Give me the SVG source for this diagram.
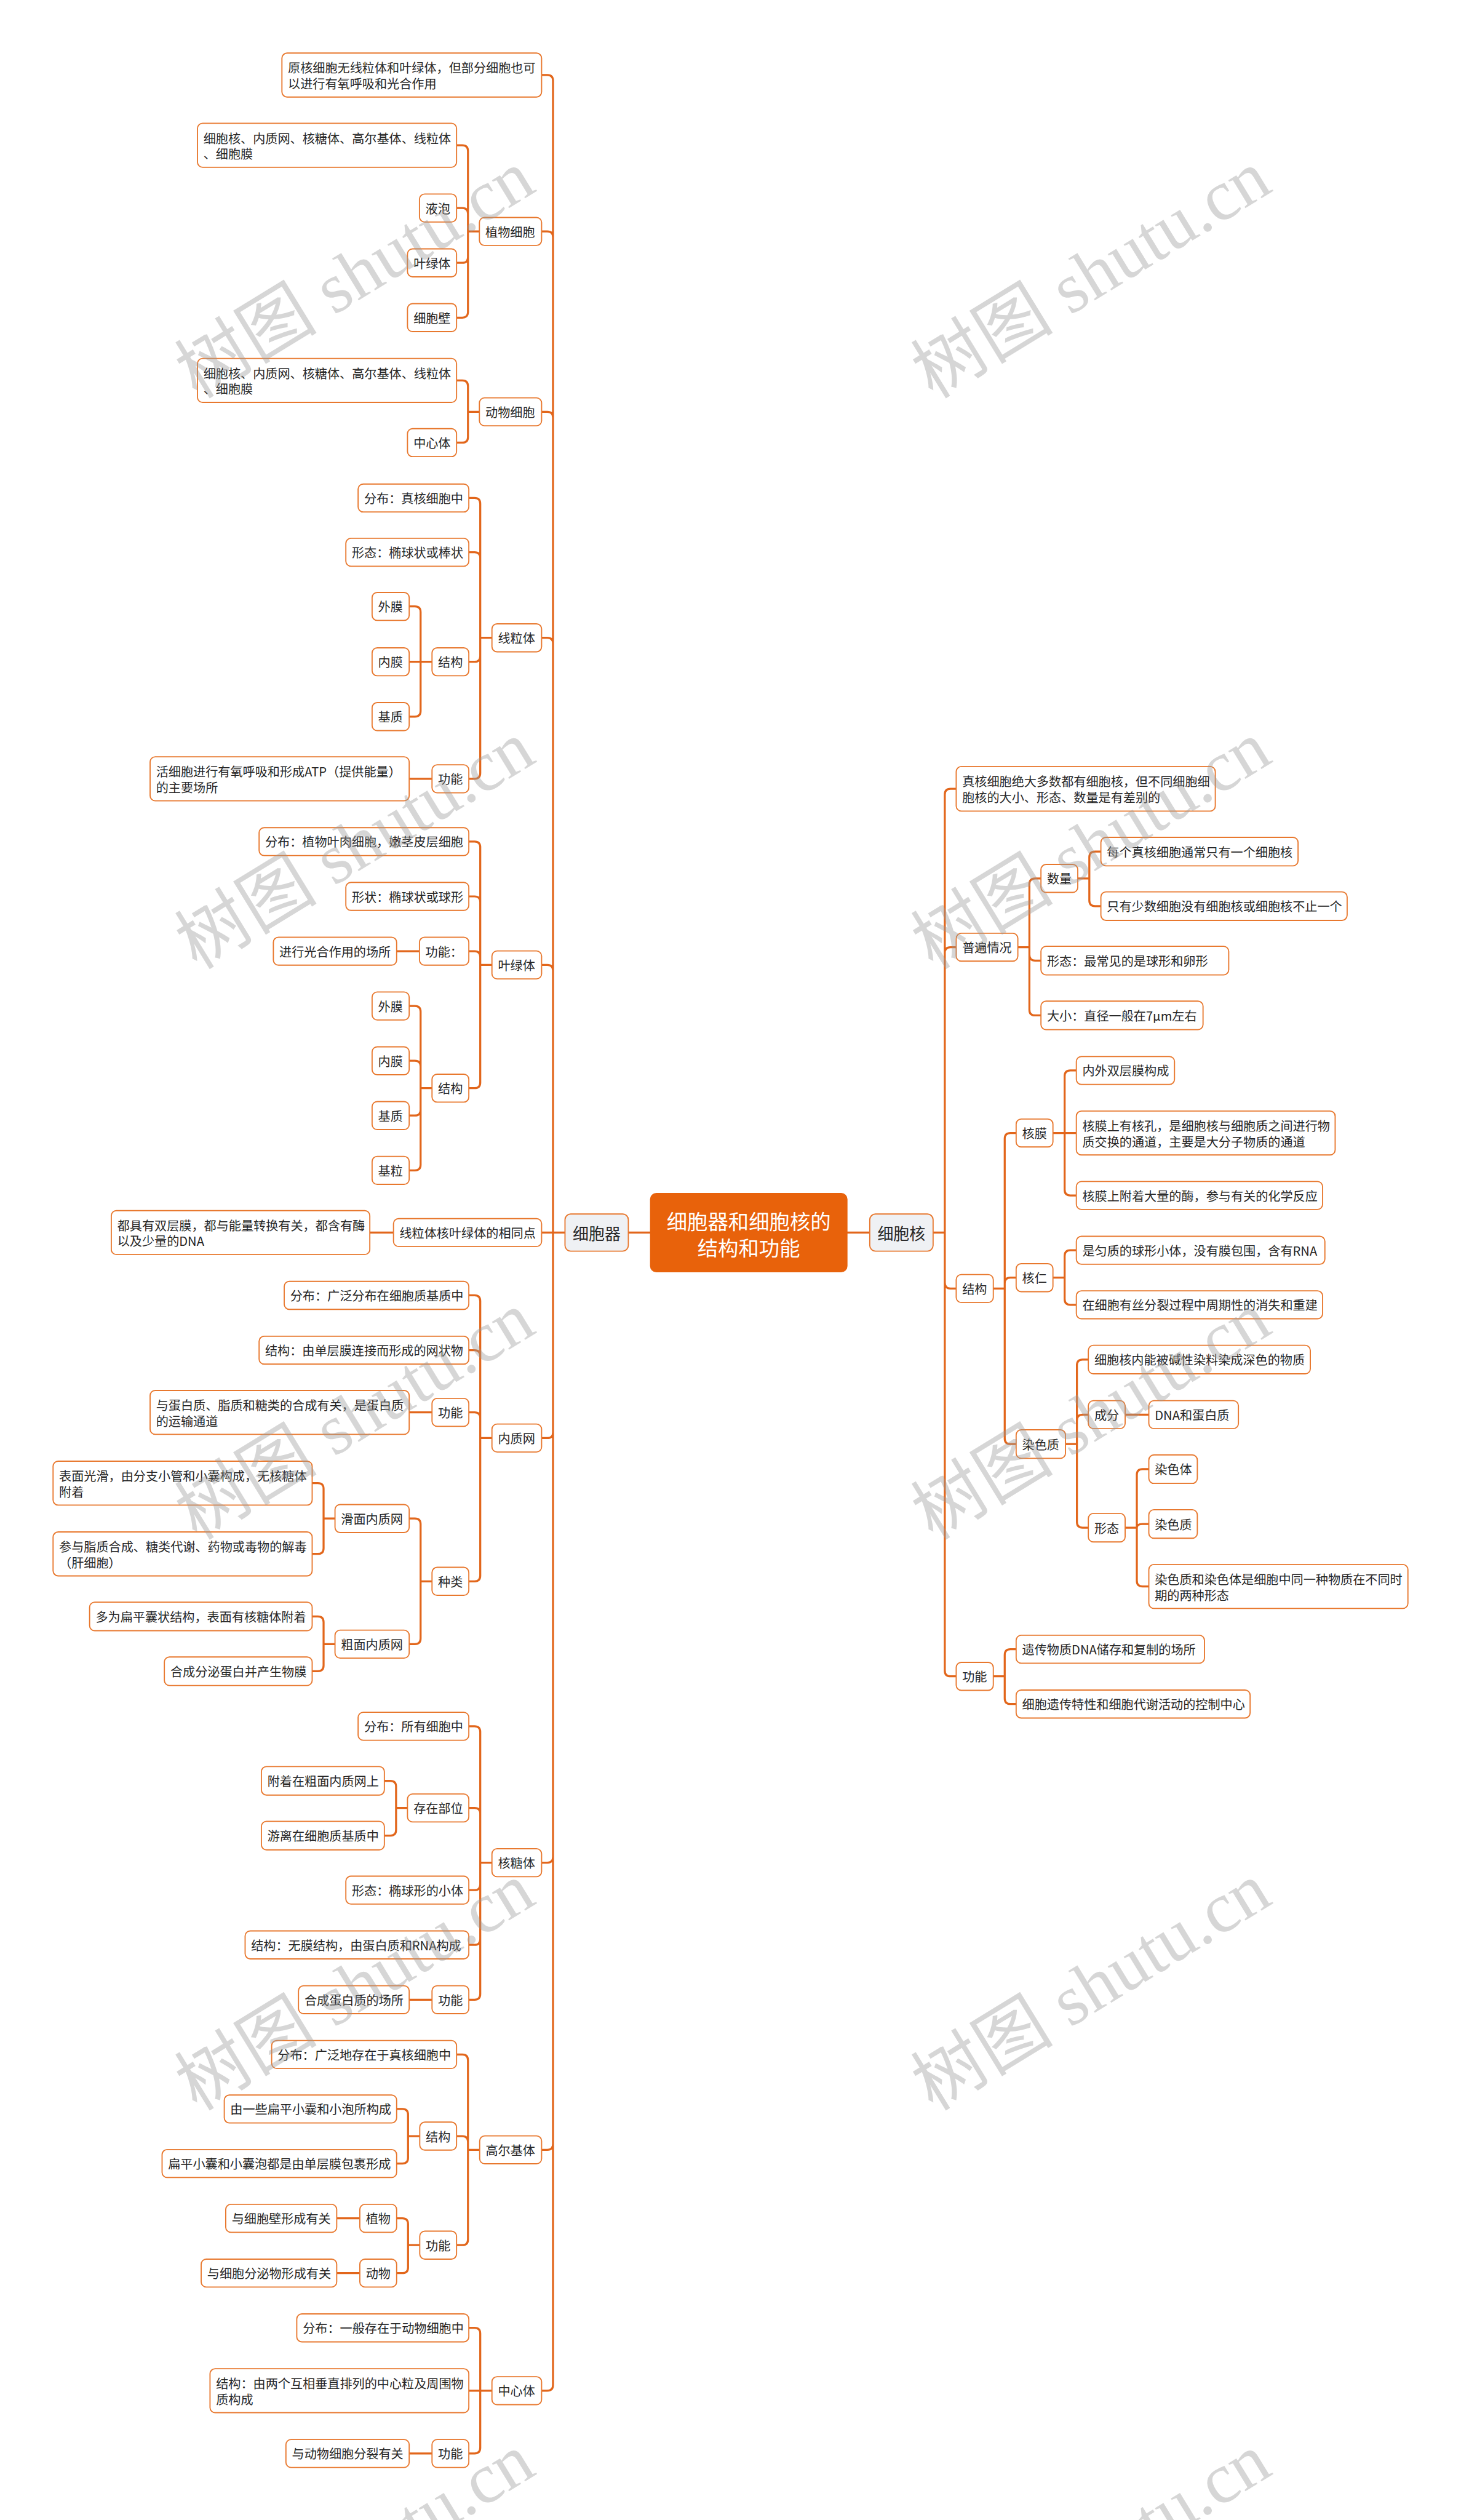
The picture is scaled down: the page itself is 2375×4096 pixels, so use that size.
<svg xmlns="http://www.w3.org/2000/svg" width="2375" height="4096" viewBox="0 0 2375 4096">
<style>
.n rect{fill:#ffffff;stroke:#e8782e;stroke-width:2}
.k rect{fill:#eff1f4;stroke:#e8782e;stroke-width:2}
.t{font-family:"Noto Sans CJK SC","Noto Sans",sans-serif;font-size:21.7px;fill:#262626;dominant-baseline:central}
.big{font-size:28px;text-anchor:middle}
.root rect{fill:#e8620b;stroke:#e8620b;stroke-width:2}
.rt{font-family:"Noto Sans CJK SC","Noto Sans",sans-serif;font-size:36px;fill:#ffffff;text-anchor:middle;dominant-baseline:central}
.c path{fill:none;stroke:#e2661b;stroke-width:3.5}
.wm{font-family:"Liberation Serif","Noto Sans CJK SC",serif;font-size:125px;fill:#999999;fill-opacity:0.4}
</style>
<rect x="0" y="0" width="2375" height="4096" fill="#ffffff"/>
<g transform="scale(0.92773)">
<g id="connectors" class="c">
<path d="M1101 2159.5 H1140 M1484 2159.5 H1524"/>
<path d="M949 131.5 H959 Q969 131.5 969 141.5 V2159.5 M949 405.5 H959 Q969 405.5 969 415.5 V2159.5 M949 721.5 H959 Q969 721.5 969 731.5 V2159.5 M949 1117.5 H959 Q969 1117.5 969 1127.5 V2159.5 M949 1690.5 H959 Q969 1690.5 969 1700.5 V2159.5 M949 2159.5 H990 M949 2519.5 H959 Q969 2519.5 969 2509.5 V2159.5 M949 3263.5 H959 Q969 3263.5 969 3253.5 V2159.5 M949 3766.5 H959 Q969 3766.5 969 3756.5 V2159.5 M949 4188.5 H959 Q969 4188.5 969 4178.5 V2159.5"/>
<path d="M800 254.5 H810 Q820 254.5 820 264.5 V405.5 M800 364.5 H810 Q820 364.5 820 374.5 V405.5 M800 460.5 H810 Q820 460.5 820 450.5 V405.5 M800 556.5 H810 Q820 556.5 820 546.5 V405.5 M840 405.5 H820"/>
<path d="M800 666.5 H810 Q820 666.5 820 676.5 V721.5 M800 775.5 H810 Q820 775.5 820 765.5 V721.5 M840 721.5 H820"/>
<path d="M821.5 872.5 H831.5 Q841.5 872.5 841.5 882.5 V1117.5 M821.5 967.5 H831.5 Q841.5 967.5 841.5 977.5 V1117.5 M821.5 1159.5 H831.5 Q841.5 1159.5 841.5 1149.5 V1117.5 M821.5 1364.5 H831.5 Q841.5 1364.5 841.5 1354.5 V1117.5 M862 1117.5 H841.5"/>
<path d="M717 1062.5 H727 Q737 1062.5 737 1072.5 V1159.5 M717 1159.5 H757 M717 1255.5 H727 Q737 1255.5 737 1245.5 V1159.5"/>
<path d="M717 1364.5 H757"/>
<path d="M821.5 1474.5 H831.5 Q841.5 1474.5 841.5 1484.5 V1690.5 M821.5 1570.5 H831.5 Q841.5 1570.5 841.5 1580.5 V1690.5 M821.5 1666.5 H831.5 Q841.5 1666.5 841.5 1676.5 V1690.5 M821.5 1906.5 H831.5 Q841.5 1906.5 841.5 1896.5 V1690.5 M862 1690.5 H841.5"/>
<path d="M695 1666.5 H735"/>
<path d="M717 1762.5 H727 Q737 1762.5 737 1772.5 V1906.5 M717 1858.5 H727 Q737 1858.5 737 1868.5 V1906.5 M717 1954.5 H727 Q737 1954.5 737 1944.5 V1906.5 M717 2050.5 H727 Q737 2050.5 737 2040.5 V1906.5 M757 1906.5 H737"/>
<path d="M648 2159.5 H689.5"/>
<path d="M821.5 2269.5 H831.5 Q841.5 2269.5 841.5 2279.5 V2519.5 M821.5 2365.5 H831.5 Q841.5 2365.5 841.5 2375.5 V2519.5 M821.5 2474.5 H831.5 Q841.5 2474.5 841.5 2484.5 V2519.5 M821.5 2770.5 H831.5 Q841.5 2770.5 841.5 2760.5 V2519.5 M862 2519.5 H841.5"/>
<path d="M717 2474.5 H757"/>
<path d="M717 2660.5 H727 Q737 2660.5 737 2670.5 V2770.5 M717 2880.5 H727 Q737 2880.5 737 2870.5 V2770.5 M757 2770.5 H737"/>
<path d="M547 2598.5 H557 Q567 2598.5 567 2608.5 V2660.5 M547 2722.5 H557 Q567 2722.5 567 2712.5 V2660.5 M587 2660.5 H567"/>
<path d="M547 2832 H557 Q567 2832 567 2842 V2880.5 M547 2928 H557 Q567 2928 567 2918 V2880.5 M587 2880.5 H567"/>
<path d="M821.5 3024.5 H831.5 Q841.5 3024.5 841.5 3034.5 V3263.5 M821.5 3167.5 H831.5 Q841.5 3167.5 841.5 3177.5 V3263.5 M821.5 3311.5 H831.5 Q841.5 3311.5 841.5 3301.5 V3263.5 M821.5 3407.5 H831.5 Q841.5 3407.5 841.5 3397.5 V3263.5 M821.5 3503.5 H831.5 Q841.5 3503.5 841.5 3493.5 V3263.5 M862 3263.5 H841.5"/>
<path d="M673.5 3120 H684 Q694 3120 694 3130 V3167.5 M673.5 3216 H684 Q694 3216 694 3206 V3167.5 M714 3167.5 H694"/>
<path d="M717 3503.5 H757"/>
<path d="M800 3599.5 H810 Q820 3599.5 820 3609.5 V3766.5 M800 3742.5 H810 Q820 3742.5 820 3752.5 V3766.5 M800 3933.5 H810 Q820 3933.5 820 3923.5 V3766.5 M840.5 3766.5 H820"/>
<path d="M695 3695 H705 Q715 3695 715 3705 V3742.5 M695 3790.5 H705 Q715 3790.5 715 3780.5 V3742.5 M735.5 3742.5 H715"/>
<path d="M695 3886.5 H705 Q715 3886.5 715 3896.5 V3933.5 M695 3982.5 H705 Q715 3982.5 715 3972.5 V3933.5 M735.5 3933.5 H715"/>
<path d="M590 3886.5 H630.5 M590 3982.5 H630.5"/>
<path d="M821.5 4078.5 H831.5 Q841.5 4078.5 841.5 4088.5 V4188.5 M821.5 4188.5 H862 M821.5 4298.5 H831.5 Q841.5 4298.5 841.5 4288.5 V4188.5"/>
<path d="M717 4298.5 H757"/>
<path d="M1675.5 1382 H1665.5 Q1655.5 1382 1655.5 1392 V2159.5 M1675.5 1659.5 H1665.5 Q1655.5 1659.5 1655.5 1669.5 V2159.5 M1675.5 2257.5 H1665.5 Q1655.5 2257.5 1655.5 2247.5 V2159.5 M1675.5 2937 H1665.5 Q1655.5 2937 1655.5 2927 V2159.5 M1635 2159.5 H1655.5"/>
<path d="M1824 1539 H1813.75 Q1803.75 1539 1803.75 1549 V1659.5 M1824 1683 H1813.75 Q1803.75 1683 1803.75 1673 V1659.5 M1824 1779 H1813.75 Q1803.75 1779 1803.75 1769 V1659.5 M1783.5 1659.5 H1803.75"/>
<path d="M1929 1492 H1918.75 Q1908.75 1492 1908.75 1502 V1539 M1929 1587.5 H1918.75 Q1908.75 1587.5 1908.75 1577.5 V1539 M1888.5 1539 H1908.75"/>
<path d="M1780.5 1985 H1770.5 Q1760.5 1985 1760.5 1995 V2257.5 M1780.5 2238.5 H1770.5 Q1760.5 2238.5 1760.5 2248.5 V2257.5 M1780.5 2530 H1770.5 Q1760.5 2530 1760.5 2520 V2257.5 M1740.5 2257.5 H1760.5"/>
<path d="M1886 1875.5 H1875.5 Q1865.5 1875.5 1865.5 1885.5 V1985 M1845 1985 H1886 M1886 2094.5 H1875.5 Q1865.5 2094.5 1865.5 2084.5 V1985"/>
<path d="M1886 2190.5 H1875.5 Q1865.5 2190.5 1865.5 2200.5 V2238.5 M1886 2286 H1875.5 Q1865.5 2286 1865.5 2276 V2238.5 M1845 2238.5 H1865.5"/>
<path d="M1907 2382 H1897 Q1887 2382 1887 2392 V2530 M1907 2478.5 H1897 Q1887 2478.5 1887 2488.5 V2530 M1907 2676.5 H1897 Q1887 2676.5 1887 2666.5 V2530 M1867 2530 H1887"/>
<path d="M1971.5 2478.5 H2013"/>
<path d="M2013 2574 H2002 Q1992 2574 1992 2584 V2676.5 M2013 2670 H2002 Q1992 2670 1992 2676.5 M2013 2779.5 H2002 Q1992 2779.5 1992 2769.5 V2676.5 M1971.5 2676.5 H1992"/>
<path d="M1780.5 2889.5 H1770.5 Q1760.5 2889.5 1760.5 2899.5 V2937 M1780.5 2985.5 H1770.5 Q1760.5 2985.5 1760.5 2975.5 V2937 M1740.5 2937 H1760.5"/>
</g>

<g id="n_root" class="root"><rect x="1140" y="2091" width="344" height="137" rx="10"/><text class="rt"><tspan x="1312" y="2137">细胞器和细胞核的</tspan><tspan x="1312" y="2184">结构和功能</tspan></text></g>
<g id="n_organelle" class="k"><rect x="990" y="2127" width="111" height="65" rx="10"/><text class="t big" x="1045.5" y="2159.5">细胞器</text></g>
<g id="n_nucleus" class="k"><rect x="1524" y="2127" width="111" height="65" rx="10"/><text class="t big" x="1579.5" y="2159.5">细胞核</text></g>

<g id="n_l1" class="n"><rect x="494" y="93" width="455" height="77" rx="9"/><text class="t"><tspan x="504.5" y="118">原核细胞无线粒体和叶绿体，但部分细胞也可</tspan><tspan x="504.5" y="145.5">以进行有氧呼吸和光合作用</tspan></text></g>
<g id="n_plant" class="n"><rect x="840" y="381" width="109" height="49" rx="9"/><text class="t" x="850.5" y="405.5">植物细胞</text></g>
<g id="n_plant_1" class="n"><rect x="346" y="216" width="454" height="77" rx="9"/><text class="t"><tspan x="356.5" y="241">细胞核、内质网、核糖体、高尔基体、线粒体</tspan><tspan x="356.5" y="268.5">、细胞膜</tspan></text></g>
<g id="n_plant_2" class="n"><rect x="735" y="340" width="65" height="49" rx="9"/><text class="t" x="745.5" y="364.5">液泡</text></g>
<g id="n_plant_3" class="n"><rect x="714" y="436" width="86" height="49" rx="9"/><text class="t" x="724.5" y="460.5">叶绿体</text></g>
<g id="n_plant_4" class="n"><rect x="714" y="532" width="86" height="49" rx="9"/><text class="t" x="724.5" y="556.5">细胞壁</text></g>
<g id="n_animal" class="n"><rect x="840" y="697" width="109" height="49" rx="9"/><text class="t" x="850.5" y="721.5">动物细胞</text></g>
<g id="n_animal_1" class="n"><rect x="346" y="628" width="454" height="77" rx="9"/><text class="t"><tspan x="356.5" y="653">细胞核、内质网、核糖体、高尔基体、线粒体</tspan><tspan x="356.5" y="680.5">、细胞膜</tspan></text></g>
<g id="n_animal_2" class="n"><rect x="714" y="751" width="86" height="49" rx="9"/><text class="t" x="724.5" y="775.5">中心体</text></g>

<g id="n_mito" class="n"><rect x="862" y="1093" width="87" height="49" rx="9"/><text class="t" x="872.5" y="1117.5">线粒体</text></g>
<g id="n_mito_1" class="n"><rect x="627.5" y="848" width="194" height="49" rx="9"/><text class="t" x="638" y="872.5">分布：真核细胞中</text></g>
<g id="n_mito_2" class="n"><rect x="606" y="943" width="215.5" height="49" rx="9"/><text class="t" x="616.5" y="967.5">形态：椭球状或棒状</text></g>
<g id="n_mito_3" class="n"><rect x="757" y="1135" width="64.5" height="49" rx="9"/><text class="t" x="767.5" y="1159.5">结构</text></g>
<g id="n_mito_3a" class="n"><rect x="652" y="1038" width="65" height="49" rx="9"/><text class="t" x="662.5" y="1062.5">外膜</text></g>
<g id="n_mito_3b" class="n"><rect x="652" y="1135" width="65" height="49" rx="9"/><text class="t" x="662.5" y="1159.5">内膜</text></g>
<g id="n_mito_3c" class="n"><rect x="652" y="1231" width="65" height="49" rx="9"/><text class="t" x="662.5" y="1255.5">基质</text></g>
<g id="n_mito_4" class="n"><rect x="757" y="1340" width="64.5" height="49" rx="9"/><text class="t" x="767.5" y="1364.5">功能</text></g>
<g id="n_mito_4a" class="n"><rect x="263" y="1326" width="454" height="77" rx="9"/><text class="t"><tspan x="273.5" y="1351">活细胞进行有氧呼吸和形成ATP（提供能量）</tspan><tspan x="273.5" y="1378.5">的主要场所</tspan></text></g>

<g id="n_chloro" class="n"><rect x="862" y="1666" width="87" height="49" rx="9"/><text class="t" x="872.5" y="1690.5">叶绿体</text></g>
<g id="n_chloro_1" class="n"><rect x="454" y="1450" width="367.5" height="49" rx="9"/><text class="t" x="464.5" y="1474.5">分布：植物叶肉细胞，嫩茎皮层细胞</text></g>
<g id="n_chloro_2" class="n"><rect x="606" y="1546" width="215.5" height="49" rx="9"/><text class="t" x="616.5" y="1570.5">形状：椭球状或球形</text></g>
<g id="n_chloro_3" class="n"><rect x="735" y="1642" width="86.5" height="49" rx="9"/><text class="t" x="745.5" y="1666.5">功能：</text></g>
<g id="n_chloro_3a" class="n"><rect x="479" y="1642" width="216" height="49" rx="9"/><text class="t" x="489.5" y="1666.5">进行光合作用的场所</text></g>
<g id="n_chloro_4" class="n"><rect x="757" y="1882" width="64.5" height="49" rx="9"/><text class="t" x="767.5" y="1906.5">结构</text></g>
<g id="n_chloro_4a" class="n"><rect x="652" y="1738" width="65" height="49" rx="9"/><text class="t" x="662.5" y="1762.5">外膜</text></g>
<g id="n_chloro_4b" class="n"><rect x="652" y="1834" width="65" height="49" rx="9"/><text class="t" x="662.5" y="1858.5">内膜</text></g>
<g id="n_chloro_4c" class="n"><rect x="652" y="1930" width="65" height="49" rx="9"/><text class="t" x="662.5" y="1954.5">基质</text></g>
<g id="n_chloro_4d" class="n"><rect x="652" y="2026" width="65" height="49" rx="9"/><text class="t" x="662.5" y="2050.5">基粒</text></g>

<g id="n_same" class="n"><rect x="689.5" y="2135" width="259.5" height="49" rx="9"/><text class="t" x="700" y="2159.5">线粒体核叶绿体的相同点</text></g>
<g id="n_same_1" class="n"><rect x="195" y="2121" width="453" height="77" rx="9"/><text class="t"><tspan x="205.5" y="2146">都具有双层膜，都与能量转换有关，都含有酶</tspan><tspan x="205.5" y="2173.5">以及少量的DNA</tspan></text></g>

<g id="n_er" class="n"><rect x="862" y="2495" width="87" height="49" rx="9"/><text class="t" x="872.5" y="2519.5">内质网</text></g>
<g id="n_er_1" class="n"><rect x="498" y="2245" width="323.5" height="49" rx="9"/><text class="t" x="508.5" y="2269.5">分布：广泛分布在细胞质基质中</text></g>
<g id="n_er_2" class="n"><rect x="454" y="2341" width="367.5" height="49" rx="9"/><text class="t" x="464.5" y="2365.5">结构：由单层膜连接而形成的网状物</text></g>
<g id="n_er_3" class="n"><rect x="757" y="2450" width="64.5" height="49" rx="9"/><text class="t" x="767.5" y="2474.5">功能</text></g>
<g id="n_er_3a" class="n"><rect x="263" y="2436" width="454" height="77" rx="9"/><text class="t"><tspan x="273.5" y="2461">与蛋白质、脂质和糖类的合成有关，是蛋白质</tspan><tspan x="273.5" y="2488.5">的运输通道</tspan></text></g>
<g id="n_er_4" class="n"><rect x="757" y="2746" width="64.5" height="49" rx="9"/><text class="t" x="767.5" y="2770.5">种类</text></g>
<g id="n_er_4a" class="n"><rect x="587" y="2636" width="130" height="49" rx="9"/><text class="t" x="597.5" y="2660.5">滑面内质网</text></g>
<g id="n_er_4a1" class="n"><rect x="93" y="2560" width="454" height="77" rx="9"/><text class="t"><tspan x="103.5" y="2585">表面光滑，由分支小管和小囊构成，无核糖体</tspan><tspan x="103.5" y="2612.5">附着</tspan></text></g>
<g id="n_er_4a2" class="n"><rect x="93" y="2684" width="454" height="77" rx="9"/><text class="t"><tspan x="103.5" y="2709">参与脂质合成、糖类代谢、药物或毒物的解毒</tspan><tspan x="103.5" y="2736.5">（肝细胞）</tspan></text></g>
<g id="n_er_4b" class="n"><rect x="587" y="2856" width="130" height="49" rx="9"/><text class="t" x="597.5" y="2880.5">粗面内质网</text></g>
<g id="n_er_4b1" class="n"><rect x="157" y="2807" width="390" height="50" rx="9"/><text class="t" x="167.5" y="2832">多为扁平囊状结构，表面有核糖体附着</text></g>
<g id="n_er_4b2" class="n"><rect x="288" y="2903" width="259" height="50" rx="9"/><text class="t" x="298.5" y="2928">合成分泌蛋白并产生物膜</text></g>

<g id="n_ribo" class="n"><rect x="862" y="3239" width="87" height="49" rx="9"/><text class="t" x="872.5" y="3263.5">核糖体</text></g>
<g id="n_ribo_1" class="n"><rect x="627.5" y="3000" width="194" height="49" rx="9"/><text class="t" x="638" y="3024.5">分布：所有细胞中</text></g>
<g id="n_ribo_2" class="n"><rect x="714" y="3143" width="107.5" height="49" rx="9"/><text class="t" x="724.5" y="3167.5">存在部位</text></g>
<g id="n_ribo_2a" class="n"><rect x="458" y="3095" width="215.5" height="50" rx="9"/><text class="t" x="468.5" y="3120">附着在粗面内质网上</text></g>
<g id="n_ribo_2b" class="n"><rect x="458" y="3191" width="215.5" height="50" rx="9"/><text class="t" x="468.5" y="3216">游离在细胞质基质中</text></g>
<g id="n_ribo_3" class="n"><rect x="606" y="3287" width="215.5" height="49" rx="9"/><text class="t" x="616.5" y="3311.5">形态：椭球形的小体</text></g>
<g id="n_ribo_4" class="n"><rect x="429.5" y="3383" width="392" height="49" rx="9"/><text class="t" x="440" y="3407.5">结构：无膜结构，由蛋白质和RNA构成</text></g>
<g id="n_ribo_5" class="n"><rect x="757" y="3479" width="64.5" height="49" rx="9"/><text class="t" x="767.5" y="3503.5">功能</text></g>
<g id="n_ribo_5a" class="n"><rect x="523" y="3479" width="194" height="49" rx="9"/><text class="t" x="533.5" y="3503.5">合成蛋白质的场所</text></g>

<g id="n_golgi" class="n"><rect x="840.5" y="3742" width="108.5" height="49" rx="9"/><text class="t" x="851" y="3766.5">高尔基体</text></g>
<g id="n_golgi_1" class="n"><rect x="476" y="3575" width="324" height="49" rx="9"/><text class="t" x="486.5" y="3599.5">分布：广泛地存在于真核细胞中</text></g>
<g id="n_golgi_2" class="n"><rect x="735.5" y="3718" width="64.5" height="49" rx="9"/><text class="t" x="746" y="3742.5">结构</text></g>
<g id="n_golgi_2a" class="n"><rect x="393" y="3670.5" width="302" height="49" rx="9"/><text class="t" x="403.5" y="3695">由一些扁平小囊和小泡所构成</text></g>
<g id="n_golgi_2b" class="n"><rect x="284" y="3766" width="411" height="49" rx="9"/><text class="t" x="294.5" y="3790.5">扁平小囊和小囊泡都是由单层膜包裹形成</text></g>
<g id="n_golgi_3" class="n"><rect x="735.5" y="3909" width="64.5" height="49" rx="9"/><text class="t" x="746" y="3933.5">功能</text></g>
<g id="n_golgi_3a" class="n"><rect x="630.5" y="3862" width="64.5" height="49" rx="9"/><text class="t" x="641" y="3886.5">植物</text></g>
<g id="n_golgi_3a1" class="n"><rect x="395.5" y="3862" width="194.5" height="49" rx="9"/><text class="t" x="406" y="3886.5">与细胞壁形成有关</text></g>
<g id="n_golgi_3b" class="n"><rect x="630.5" y="3958" width="64.5" height="49" rx="9"/><text class="t" x="641" y="3982.5">动物</text></g>
<g id="n_golgi_3b1" class="n"><rect x="352.5" y="3958" width="237.5" height="49" rx="9"/><text class="t" x="363" y="3982.5">与细胞分泌物形成有关</text></g>

<g id="n_cent" class="n"><rect x="862" y="4164" width="87" height="49" rx="9"/><text class="t" x="872.5" y="4188.5">中心体</text></g>
<g id="n_cent_1" class="n"><rect x="520" y="4054" width="301.5" height="49" rx="9"/><text class="t" x="530.5" y="4078.5">分布：一般存在于动物细胞中</text></g>
<g id="n_cent_2" class="n"><rect x="368" y="4150" width="453.5" height="77" rx="9"/><text class="t"><tspan x="378.5" y="4175">结构：由两个互相垂直排列的中心粒及周围物</tspan><tspan x="378.5" y="4202.5">质构成</tspan></text></g>
<g id="n_cent_3" class="n"><rect x="757" y="4274" width="64.5" height="49" rx="9"/><text class="t" x="767.5" y="4298.5">功能</text></g>
<g id="n_cent_3a" class="n"><rect x="501" y="4274" width="216" height="49" rx="9"/><text class="t" x="511.5" y="4298.5">与动物细胞分裂有关</text></g>

<g id="n_r1" class="n"><rect x="1675.5" y="1343" width="454" height="78" rx="9"/><text class="t"><tspan x="1686" y="1368">真核细胞绝大多数都有细胞核，但不同细胞细</tspan><tspan x="1686" y="1395.5">胞核的大小、形态、数量是有差别的</tspan></text></g>
<g id="n_gen" class="n"><rect x="1675.5" y="1635" width="108" height="49" rx="9"/><text class="t" x="1686" y="1659.5">普遍情况</text></g>
<g id="n_gen_1" class="n"><rect x="1824" y="1514.5" width="64.5" height="49" rx="9"/><text class="t" x="1834.5" y="1539">数量</text></g>
<g id="n_gen_1a" class="n"><rect x="1929" y="1467" width="345.5" height="50" rx="9"/><text class="t" x="1939.5" y="1492">每个真核细胞通常只有一个细胞核</text></g>
<g id="n_gen_1b" class="n"><rect x="1929" y="1562.5" width="431.5" height="50" rx="9"/><text class="t" x="1939.5" y="1587.5">只有少数细胞没有细胞核或细胞核不止一个</text></g>
<g id="n_gen_2" class="n"><rect x="1824" y="1658" width="329" height="50" rx="9"/><text class="t" x="1834.5" y="1683">形态：最常见的是球形和卵形</text></g>
<g id="n_gen_3" class="n"><rect x="1824" y="1754" width="284" height="50" rx="9"/><text class="t" x="1834.5" y="1779">大小：直径一般在7μm左右</text></g>

<g id="n_struct" class="n"><rect x="1675.5" y="2233" width="65" height="49" rx="9"/><text class="t" x="1686" y="2257.5">结构</text></g>
<g id="n_env" class="n"><rect x="1780.5" y="1960.5" width="64.5" height="49" rx="9"/><text class="t" x="1791" y="1985">核膜</text></g>
<g id="n_env_1" class="n"><rect x="1886" y="1851" width="172" height="49" rx="9"/><text class="t" x="1896.5" y="1875.5">内外双层膜构成</text></g>
<g id="n_env_2" class="n"><rect x="1886" y="1946.5" width="453.5" height="77" rx="9"/><text class="t"><tspan x="1896.5" y="1971.5">核膜上有核孔，是细胞核与细胞质之间进行物</tspan><tspan x="1896.5" y="1999">质交换的通道，主要是大分子物质的通道</tspan></text></g>
<g id="n_env_3" class="n"><rect x="1886" y="2070" width="431.5" height="49" rx="9"/><text class="t" x="1896.5" y="2094.5">核膜上附着大量的酶，参与有关的化学反应</text></g>
<g id="n_nucl" class="n"><rect x="1780.5" y="2214" width="64.5" height="49" rx="9"/><text class="t" x="1791" y="2238.5">核仁</text></g>
<g id="n_nucl_1" class="n"><rect x="1886" y="2166" width="435.5" height="49" rx="9"/><text class="t" x="1896.5" y="2190.5">是匀质的球形小体，没有膜包围，含有RNA</text></g>
<g id="n_nucl_2" class="n"><rect x="1886" y="2261.5" width="431.5" height="49" rx="9"/><text class="t" x="1896.5" y="2286">在细胞有丝分裂过程中周期性的消失和重建</text></g>
<g id="n_chrom" class="n"><rect x="1780.5" y="2505" width="86.5" height="50" rx="9"/><text class="t" x="1791" y="2530">染色质</text></g>
<g id="n_chrom_1" class="n"><rect x="1907" y="2357" width="389" height="50" rx="9"/><text class="t" x="1917.5" y="2382">细胞核内能被碱性染料染成深色的物质</text></g>
<g id="n_chrom_2" class="n"><rect x="1907" y="2454" width="64.5" height="49" rx="9"/><text class="t" x="1917.5" y="2478.5">成分</text></g>
<g id="n_chrom_2a" class="n"><rect x="2013" y="2454" width="157" height="49" rx="9"/><text class="t" x="2023.5" y="2478.5">DNA和蛋白质</text></g>
<g id="n_chrom_3" class="n"><rect x="1907" y="2651.5" width="64.5" height="50" rx="9"/><text class="t" x="1917.5" y="2676.5">形态</text></g>
<g id="n_chrom_3a" class="n"><rect x="2013" y="2549" width="85" height="50" rx="9"/><text class="t" x="2023.5" y="2574">染色体</text></g>
<g id="n_chrom_3b" class="n"><rect x="2013" y="2645" width="85" height="50" rx="9"/><text class="t" x="2023.5" y="2670">染色质</text></g>
<g id="n_chrom_3c" class="n"><rect x="2013" y="2741" width="454" height="77" rx="9"/><text class="t"><tspan x="2023.5" y="2766">染色质和染色体是细胞中同一种物质在不同时</tspan><tspan x="2023.5" y="2793.5">期的两种形态</tspan></text></g>
<g id="n_func" class="n"><rect x="1675.5" y="2912.5" width="65" height="49" rx="9"/><text class="t" x="1686" y="2937">功能</text></g>
<g id="n_func_1" class="n"><rect x="1780.5" y="2865" width="330" height="49" rx="9"/><text class="t" x="1791" y="2889.5">遗传物质DNA储存和复制的场所</text></g>
<g id="n_func_2" class="n"><rect x="1780.5" y="2961" width="410" height="49" rx="9"/><text class="t" x="1791" y="2985.5">细胞遗传特性和细胞代谢活动的控制中心</text></g>

<g id="watermarks">
<text class="wm" transform="translate(345 700) rotate(-31.5)">树图 shutu.cn</text>
<text class="wm" transform="translate(1635 700) rotate(-31.5)">树图 shutu.cn</text>
<text class="wm" transform="translate(345 1700) rotate(-31.5)">树图 shutu.cn</text>
<text class="wm" transform="translate(1635 1700) rotate(-31.5)">树图 shutu.cn</text>
<text class="wm" transform="translate(345 2700) rotate(-31.5)">树图 shutu.cn</text>
<text class="wm" transform="translate(1635 2700) rotate(-31.5)">树图 shutu.cn</text>
<text class="wm" transform="translate(345 3700) rotate(-31.5)">树图 shutu.cn</text>
<text class="wm" transform="translate(1635 3700) rotate(-31.5)">树图 shutu.cn</text>
<text class="wm" transform="translate(345 4700) rotate(-31.5)">树图 shutu.cn</text>
<text class="wm" transform="translate(1635 4700) rotate(-31.5)">树图 shutu.cn</text>
</g>
</g>
</svg>
